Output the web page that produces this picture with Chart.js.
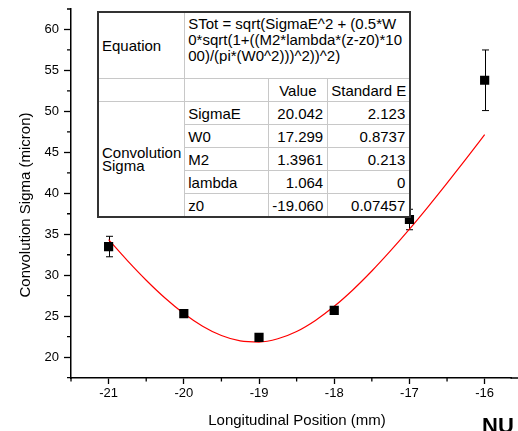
<!DOCTYPE html>
<html>
<head>
<meta charset="utf-8">
<script src="https://cdn.jsdelivr.net/npm/chart.js@4/dist/chart.umd.min.js"></script>
<style>
    body { margin: 0; background: #fff; }
    #wrap { position: relative; width: 518px; height: 431px; overflow: hidden; }
    #fit-table {
        position: absolute;
        left: 97px;
        top: 11px;
        border-collapse: collapse;
        table-layout: fixed;
        border: 2px solid #333;
        background: #fff;
        font-family: Arial, "Liberation Sans", sans-serif;
        font-size: 15px;
        color: #000;
    }
    #fit-table td {
        border: 1px solid #c8c8c8;
        padding: 0 3px;
        height: 22px;
        white-space: nowrap;
        overflow: hidden;
    }
    #fit-table td.eq { vertical-align: top; line-height: 16px; padding-top: 3px; height: 62px; }
    #fit-table td.num { text-align: right; padding-right: 4px; }
    #fit-table td.grp { line-height: 13px; }
</style>
</head>
<body>
<div id="wrap">
    <canvas id="sigma-chart" width="518" height="431"></canvas>
    <table id="fit-table">
        <colgroup>
            <col style="width:85px"><col style="width:84px"><col style="width:59px"><col style="width:77px">
        </colgroup>
        <tr>
            <td>Equation</td>
            <td class="eq" colspan="3">STot = sqrt(SigmaE^2 + (0.5*W<br>0*sqrt(1+((M2*lambda*(z-z0)*10<br>00)/(pi*(W0^2)))^2))^2)</td>
        </tr>
        <tr><td></td><td></td><td style="padding-left:10px">Value</td><td>Standard E</td></tr>
        <tr><td class="grp" rowspan="5">Convolution<br>Sigma</td><td>SigmaE</td><td class="num">20.042</td><td class="num">2.123</td></tr>
        <tr><td>W0</td><td class="num">17.299</td><td class="num">0.8737</td></tr>
        <tr><td>M2</td><td class="num">1.3961</td><td class="num">0.213</td></tr>
        <tr><td>lambda</td><td class="num">1.064</td><td class="num">0</td></tr>
        <tr><td>z0</td><td class="num">-19.060</td><td class="num">0.07457</td></tr>
    </table>
</div>
<script>
// Measured beam width vs. longitudinal position
const positions = [-21, -20, -19, -18, -17, -16];
const sigmaValues = [33.5, 25.3, 22.4, 25.7, 36.8, 53.8];
const sigmaErrors = [1.25, 0.35, 0.4, 0.35, 1.25, 3.7];

// Fitted curve sampled every 0.25 mm
const fitPositions = [-21, -20.75, -20.5, -20.25, -20, -19.75, -19.5, -19.25, -19, -18.75, -18.5,
    -18.25, -18, -17.75, -17.5, -17.25, -17, -16.75, -16.5, -16.25, -16];
const fitValues = [34.34, 31.78, 29.39, 27.22, 25.33, 23.78, 22.64, 21.98, 21.84, 22.24, 23.13,
    24.48, 26.20, 28.23, 30.51, 32.99, 35.62, 38.38, 41.24, 44.17, 47.17];

const xTitle = 'Longitudinal Position (mm)';
const yTitle = 'Convolution Sigma (micron)';
const FONT = 'Arial, "Liberation Sans", sans-serif';

// Error bars, minor ticks and axis titles
const extrasPlugin = {
    id: 'extras',
    beforeDatasetsDraw(chart) {
        const { ctx, scales: { x, y } } = chart;
        ctx.save();
        ctx.strokeStyle = '#000';
        ctx.lineWidth = 1;
        positions.forEach((p, i) => {
            const px = Math.round(x.getPixelForValue(p)) + 0.5;
            const top = y.getPixelForValue(sigmaValues[i] + sigmaErrors[i]);
            const bot = y.getPixelForValue(sigmaValues[i] - sigmaErrors[i]);
            ctx.beginPath();
            ctx.moveTo(px, top); ctx.lineTo(px, bot);
            ctx.moveTo(px - 3.5, top); ctx.lineTo(px + 3.5, top);
            ctx.moveTo(px - 3.5, bot); ctx.lineTo(px + 3.5, bot);
            ctx.stroke();
        });
        ctx.restore();
    },
    afterDraw(chart) {
        const { ctx, chartArea, scales: { x, y } } = chart;
        ctx.save();
        ctx.strokeStyle = '#000';
        ctx.lineWidth = 1.5;
        // let the x axis line run on to the canvas edge
        ctx.beginPath();
        ctx.moveTo(chartArea.right - 1, chartArea.bottom);
        ctx.lineTo(chart.width, chartArea.bottom);
        ctx.stroke();

        ctx.lineWidth = 1.3;
        ctx.beginPath();
        for (let v = -21.5; v <= x.max; v += 1) {
            const px = x.getPixelForValue(v);
            ctx.moveTo(px, chartArea.bottom); ctx.lineTo(px, chartArea.bottom + 3.5);
        }
        for (let v = 17.5; v <= y.max; v += 5) {
            if (v < y.min) continue;
            const py = y.getPixelForValue(v);
            ctx.moveTo(chartArea.left, py); ctx.lineTo(chartArea.left - 4, py);
        }
        ctx.stroke();

        ctx.fillStyle = '#000';
        ctx.font = '15px ' + FONT;
        ctx.textAlign = 'center';
        ctx.textBaseline = 'middle';
        ctx.fillText(xTitle, 297, 421);
        ctx.translate(26, 205);
        ctx.rotate(-Math.PI / 2);
        ctx.fillText(yTitle, 0, 0);
        ctx.restore();

        ctx.save();
        ctx.fillStyle = '#000';
        ctx.font = 'bold 22px ' + FONT;
        ctx.textBaseline = 'alphabetic';
        ctx.fillText('NU', 482, 433);
        ctx.restore();
    }
};

function initChart() {
    const canvas = document.getElementById('sigma-chart');
    new Chart(canvas, {
        type: 'scatter',
        data: {
            datasets: [
                {
                    label: 'Convolution Sigma',
                    data: positions.map((p, i) => ({ x: p, y: sigmaValues[i] })),
                    pointStyle: 'rect',
                    pointRadius: 6.5,
                    backgroundColor: '#000',
                    borderColor: '#000',
                    borderWidth: 0,
                    order: 0
                },
                {
                    label: 'Fit',
                    data: fitPositions.map((p, i) => ({ x: p, y: fitValues[i] })),
                    showLine: true,
                    pointRadius: 0,
                    borderColor: '#ff0000',
                    borderWidth: 1.2,
                    cubicInterpolationMode: 'monotone',
                    order: 1
                }
            ]
        },
        options: {
            responsive: false,
            animation: false,
            layout: { padding: { top: 9, left: 0, right: 0, bottom: 0 } },
            plugins: { legend: { display: false }, tooltip: { enabled: false } },
            scales: {
                x: {
                    type: 'linear',
                    min: -21.5,
                    max: -15.643,
                    afterFit: s => { s.height = 53; },
                    border: { display: true, color: '#000', width: 1.5 },
                    grid: { drawOnChartArea: false, tickLength: 6, tickColor: '#000', tickWidth: 1.3 },
                    ticks: {
                        stepSize: 1,
                        includeBounds: false,
                        padding: 2,
                        color: '#000',
                        font: { family: FONT, size: 13 },
                        maxRotation: 0
                    }
                },
                y: {
                    min: 17.45,
                    max: 62.5,
                    afterFit: s => { s.width = 71; s.paddingTop = 0; s.paddingBottom = 0; },
                    border: { display: true, color: '#000', width: 1.5 },
                    grid: { drawOnChartArea: false, tickLength: 7, tickColor: '#000', tickWidth: 1.3 },
                    ticks: {
                        stepSize: 5,
                        includeBounds: false,
                        padding: 5,
                        color: '#000',
                        font: { family: FONT, size: 13 }
                    }
                }
            }
        },
        plugins: [extrasPlugin]
    });
}

document.addEventListener('DOMContentLoaded', initChart);
</script>
</body>
</html>
